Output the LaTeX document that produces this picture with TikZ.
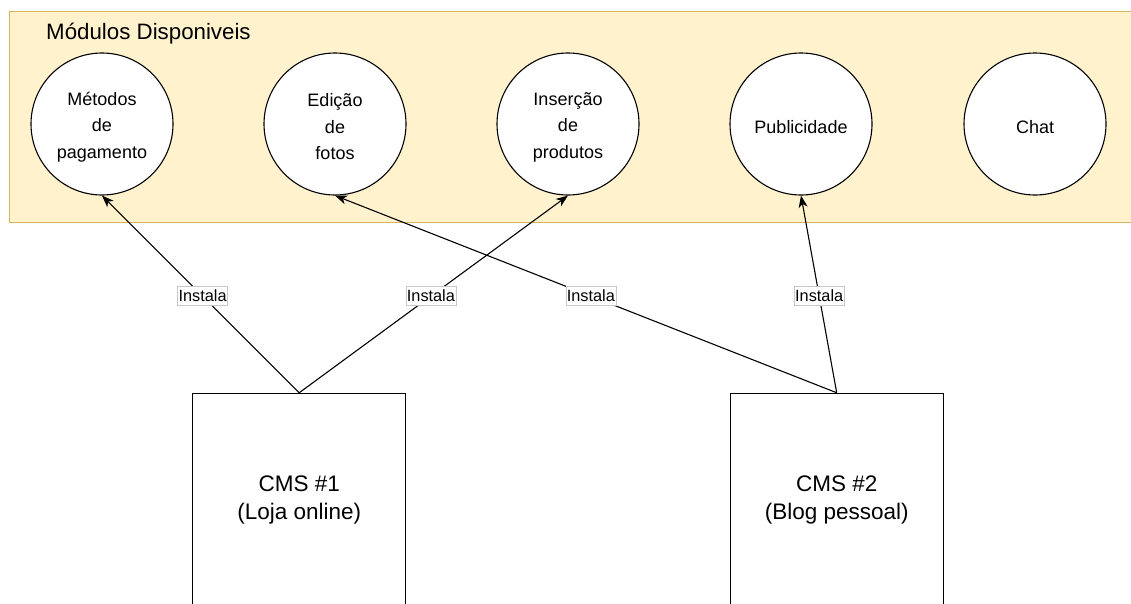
\documentclass[tikz,border=0pt]{standalone}
\usepackage{fontspec}
\setmainfont{Liberation Sans}
\usetikzlibrary{arrows.meta}
\definecolor{panelfill}{HTML}{FFF2CC}
\definecolor{panelline}{HTML}{D6B656}
\definecolor{tagline}{HTML}{C8C8C8}
\begin{document}
\begin{tikzpicture}[x=1pt, y=-1pt,
  module/.style={circle, draw=black, fill=white, line width=1.1pt,
    minimum size=142pt, inner sep=0pt},
  modtext/.style={align=center, inner sep=0pt,
    font=\fontsize{18}{26.5}\selectfont},
  cms/.style={rectangle, draw=black, fill=white, line width=1.1pt,
    minimum width=213pt, minimum height=214pt, inner sep=0pt, align=center,
    font=\fontsize{22.5}{28}\selectfont},
  tag/.style={fill=white, draw=tagline, line width=0.6pt,
    inner xsep=1pt, inner ysep=0pt, minimum height=19pt,
    font=\fontsize{16.3}{16}\selectfont},
  link/.style={line width=1.1pt, -{Stealth[length=12pt, width=9pt, inset=3.5pt]}}
]
\useasboundingbox (0,0) rectangle (1131,603);
\clip (0,0) rectangle (1131,603);

% panel holding the available modules
\draw[fill=panelfill, draw=panelline, line width=1pt] (9,11) rectangle (1145,222);
\node[anchor=base west, font=\fontsize{22.3}{26}\selectfont, inner sep=0pt]
  (title) at (46,39) {Módulos Disponiveis};

% modules
\node[module] (m1) at (102,124) {};
\node[module] (m2) at (335,124) {};
\node[module] (m3) at (568,124) {};
\node[module] (m4) at (801,124) {};
\node[module] (m5) at (1035,124) {};
\node[modtext] (m1t) at ([yshift=-3pt]m1.center) {Métodos\\de\\pagamento};
\node[modtext] (m2t) at ([yshift=-3pt]m2.center) {Edição\\de\\fotos};
\node[modtext] (m3t) at ([yshift=-3pt]m3.center) {Inserção\\de\\produtos};
\node[modtext] (m4t) at ([yshift=-3pt]m4.center) {Publicidade};
\node[modtext] (m5t) at ([yshift=-3pt]m5.center) {Chat};

% content management systems
\node[cms] (cms1) at (299.2,500.3) {CMS \#1\\(Loja online)};
\node[cms] (cms2) at (836.7,500.3) {CMS \#2\\(Blog pessoal)};

% installations
\draw[link] (cms1.north) -- node[tag, pos=0.49] (t1) {Instala} (m1.south);
\draw[link] (cms1.north) -- node[tag, pos=0.49] (t2) {Instala} (m3.south);
\draw[link] (cms2.north) -- node[tag, pos=0.49] (t3) {Instala} (m2.south);
\draw[link] (cms2.north) -- node[tag, pos=0.49] (t4) {Instala} (m4.south);
\end{tikzpicture}
\end{document}
